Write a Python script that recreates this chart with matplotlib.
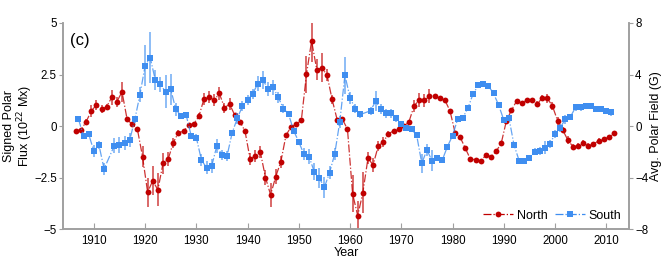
import numpy as np
import matplotlib
matplotlib.use("Agg")
import matplotlib.pyplot as plt

plt.rcParams['font.family'] = ['Liberation Sans', 'DejaVu Sans']

# North polar flux (10^22 Mx), mid-year values 1906.5 .. 2011.5
north_year = np.arange(1906.5, 2012.0, 1.0)
north_flux = [
    -0.23, -0.18, 0.21, 0.73, 1.02, 0.81, 0.94, 1.39, 1.18, 1.66,
    0.32, 0.08, -0.15, -1.48, -3.21, -2.65, -3.10, -1.81, -1.61, -0.81,
    -0.32, -0.26, 0.05, 0.10, 0.47, 1.32, 1.40, 1.26, 1.58, 0.89,
    1.06, 0.53, 0.21, -0.24, -1.61, -1.44, -1.27, -2.50, -3.34, -2.45,
    -1.73, -0.45, -0.03, 0.08, 0.29, 2.52, 4.13, 2.74, 2.82, 2.48,
    1.29, 0.29, 0.34, -0.16, -3.29, -4.35, -3.23, -1.56, -1.89, -0.97,
    -0.77, -0.37, -0.24, -0.16, 0.00, 0.21, 0.98, 1.26, 1.24, 1.45,
    1.47, 1.34, 1.26, 0.74, -0.32, -0.55, -1.08, -1.61, -1.63, -1.69,
    -1.42, -1.48, -1.23, -0.84, 0.24, 0.77, 1.21, 1.10, 1.26, 1.27,
    1.05, 1.37, 1.34, 0.97, 0.26, -0.19, -0.68, -1.00, -0.97, -0.81,
    -0.97, -0.89, -0.71, -0.63, -0.55, -0.35,
]
north_err = [
    0.10, 0.10, 0.15, 0.30, 0.25, 0.20, 0.15, 0.35, 0.25, 0.48,
    0.10, 0.10, 0.10, 0.50, 0.70, 0.70, 0.80, 0.50, 0.35, 0.25,
    0.15, 0.10, 0.10, 0.10, 0.15, 0.30, 0.30, 0.30, 0.30, 0.25,
    0.30, 0.10, 0.10, 0.10, 0.30, 0.30, 0.30, 0.35, 0.60, 0.35,
    0.30, 0.10, 0.10, 0.10, 0.10, 0.90, 1.00, 0.50, 0.70, 0.30,
    0.20, 0.10, 0.10, 0.10, 0.90, 0.70, 1.00, 0.30, 0.35, 0.25,
    0.25, 0.15, 0.10, 0.10, 0.10, 0.10, 0.30, 0.35, 0.30, 0.35,
    0.10, 0.10, 0.08, 0.08, 0.08, 0.08, 0.08, 0.08, 0.08, 0.08,
    0.08, 0.08, 0.08, 0.08, 0.10, 0.10, 0.10, 0.10, 0.10, 0.10,
    0.15, 0.15, 0.20, 0.20, 0.20, 0.15, 0.20, 0.15, 0.15, 0.15,
    0.15, 0.12, 0.12, 0.12, 0.12, 0.10,
]

# South polar flux (10^22 Mx), yearly values (1913 and 1963 missing)
south_year = np.array([1907, 1908, 1909, 1910, 1911, 1912] + list(range(1914, 1963))
                      + list(range(1964, 2012)), dtype=float)
south_flux = [
    0.34, -0.50, -0.40, -1.21, -0.92, -2.08,
    -0.95, -0.92, -0.81, -0.69, 0.32, 1.52, 2.92, 3.32, 2.23, 2.02,
    1.66, 1.79, 0.81, 0.50, 0.55, -0.47, -0.56, -1.65, -2.02, -1.94,
    -0.97, -1.40, -1.45, -0.32, 0.37, 0.97, 1.26, 1.56, 2.06, 2.23,
    1.81, 1.87, 1.39, 0.85, 0.58, -0.23, -0.77, -1.37, -1.48, -2.21,
    -2.53, -2.97, -2.26, -1.37, 0.21, 2.47, 1.37, 0.85, 0.56,
    0.74, 1.21, 0.81, 0.61, 0.61, 0.37, 0.10, -0.11, -0.16, -0.44,
    -1.81, -1.16, -1.68, -1.53, -1.65, -1.00, -0.47, 0.34, 0.40, 0.87,
    1.55, 1.97, 2.03, 1.95, 1.58, 1.02, 0.29, 0.40, -0.92, -1.68,
    -1.68, -1.56, -1.24, -1.21, -1.05, -0.87, -0.39, -0.08, 0.32, 0.45,
    0.90, 0.90, 0.97, 0.97, 0.82, 0.82, 0.74, 0.66,
]
south_err = [
    0.15, 0.15, 0.15, 0.30, 0.20, 0.30,
    0.35, 0.40, 0.35, 0.35, 0.15, 0.35, 1.00, 1.25, 0.50, 0.35,
    0.80, 0.75, 0.30, 0.10, 0.10, 0.10, 0.15, 0.30, 0.30, 0.35,
    0.35, 0.25, 0.25, 0.10, 0.25, 0.25, 0.25, 0.25, 0.35, 0.45,
    0.35, 0.35, 0.25, 0.20, 0.10, 0.10, 0.15, 0.30, 0.35, 0.40,
    0.50, 0.50, 0.30, 0.30, 0.30, 0.90, 0.30, 0.20, 0.15,
    0.20, 0.50, 0.25, 0.20, 0.20, 0.15, 0.15, 0.10, 0.10, 0.10,
    0.45, 0.30, 0.50, 0.10, 0.10, 0.10, 0.10, 0.10, 0.10, 0.10,
    0.10, 0.10, 0.10, 0.10, 0.10, 0.10, 0.15, 0.15, 0.10, 0.10,
    0.10, 0.10, 0.15, 0.20, 0.30, 0.20, 0.20, 0.20, 0.20, 0.15,
    0.15, 0.15, 0.15, 0.15, 0.15, 0.15, 0.15, 0.15,
]

red = '#c00000'
blue = '#3f8ef0'
grey = '#a0a0a0'

fig = plt.figure(figsize=(6.64, 2.77), dpi=100)
ax = fig.add_axes([0.095, 0.173, 0.852, 0.744])

for yr, val, err, col, mk, lab in [
        (north_year, north_flux, north_err, red, 'o', 'North'),
        (south_year, south_flux, south_err, blue, 's', 'South')]:
    ax.errorbar(yr, val, yerr=err, fmt='none', ecolor=col, elinewidth=1.1,
                alpha=0.75, capsize=0)
    ax.plot(yr, val, '-.', color=col, lw=0.9, alpha=0.8)
    ax.plot(yr, val, mk, color=col, ms=4.2, mew=0)
    ax.plot([], [], '-.', color=col, marker=mk, ms=4.2, mew=0, lw=0.9, label=lab)

ax.set_xlim(1904.0, 2014.4)
ax.set_ylim(-5, 5)
ax.set_xticks(np.arange(1910, 2011, 10))
ax.set_yticks([-5, -2.5, 0, 2.5, 5])
ax.set_yticklabels(['\u22125', '\u22122.5', '0', '2.5', '5'])
ax.tick_params(axis='x', direction='in', length=4, color=grey, labelsize=8.3, pad=4)
ax.tick_params(axis='y', direction='out', length=3, color=grey, labelsize=8.3, pad=1.5)
for s in ['left', 'bottom', 'right']:
    ax.spines[s].set_color(grey)
    ax.spines[s].set_linewidth(1.2)
ax.spines['top'].set_visible(False)

ax.set_xlabel('Year', fontsize=9, labelpad=0)
fig.text(19 / 664, 0.545, 'Signed Polar\nFlux (10$^{22}$ Mx)', fontsize=9,
         rotation=90, ha='center', va='center', multialignment='center',
         linespacing=1.05)
ax.text(0.012, 0.95, '(c)', transform=ax.transAxes, fontsize=12, va='top')

ax2 = ax.twinx()
ax2.set_ylim(-8, 8)
ax2.set_yticks([-8, -4, 0, 4, 8])
ax2.set_yticklabels(['\u22128', '\u22124', '0', '4', '8'])
ax2.tick_params(axis='y', direction='out', length=3, color=grey, labelsize=8.3, pad=1.5)
for s in ['left', 'bottom', 'right']:
    ax2.spines[s].set_color(grey)
    ax2.spines[s].set_linewidth(1.2)
ax2.spines['top'].set_visible(False)
fig.text(656 / 664, 0.545, 'Avg. Polar Field (G)', fontsize=9,
         rotation=90, ha='center', va='center')

ax.legend(loc='lower right', ncol=2, frameon=False, fontsize=9,
          handlelength=2.4, columnspacing=0.6, handletextpad=0.3,
          borderaxespad=0.2)

fig.savefig('out.png', dpi=100)
